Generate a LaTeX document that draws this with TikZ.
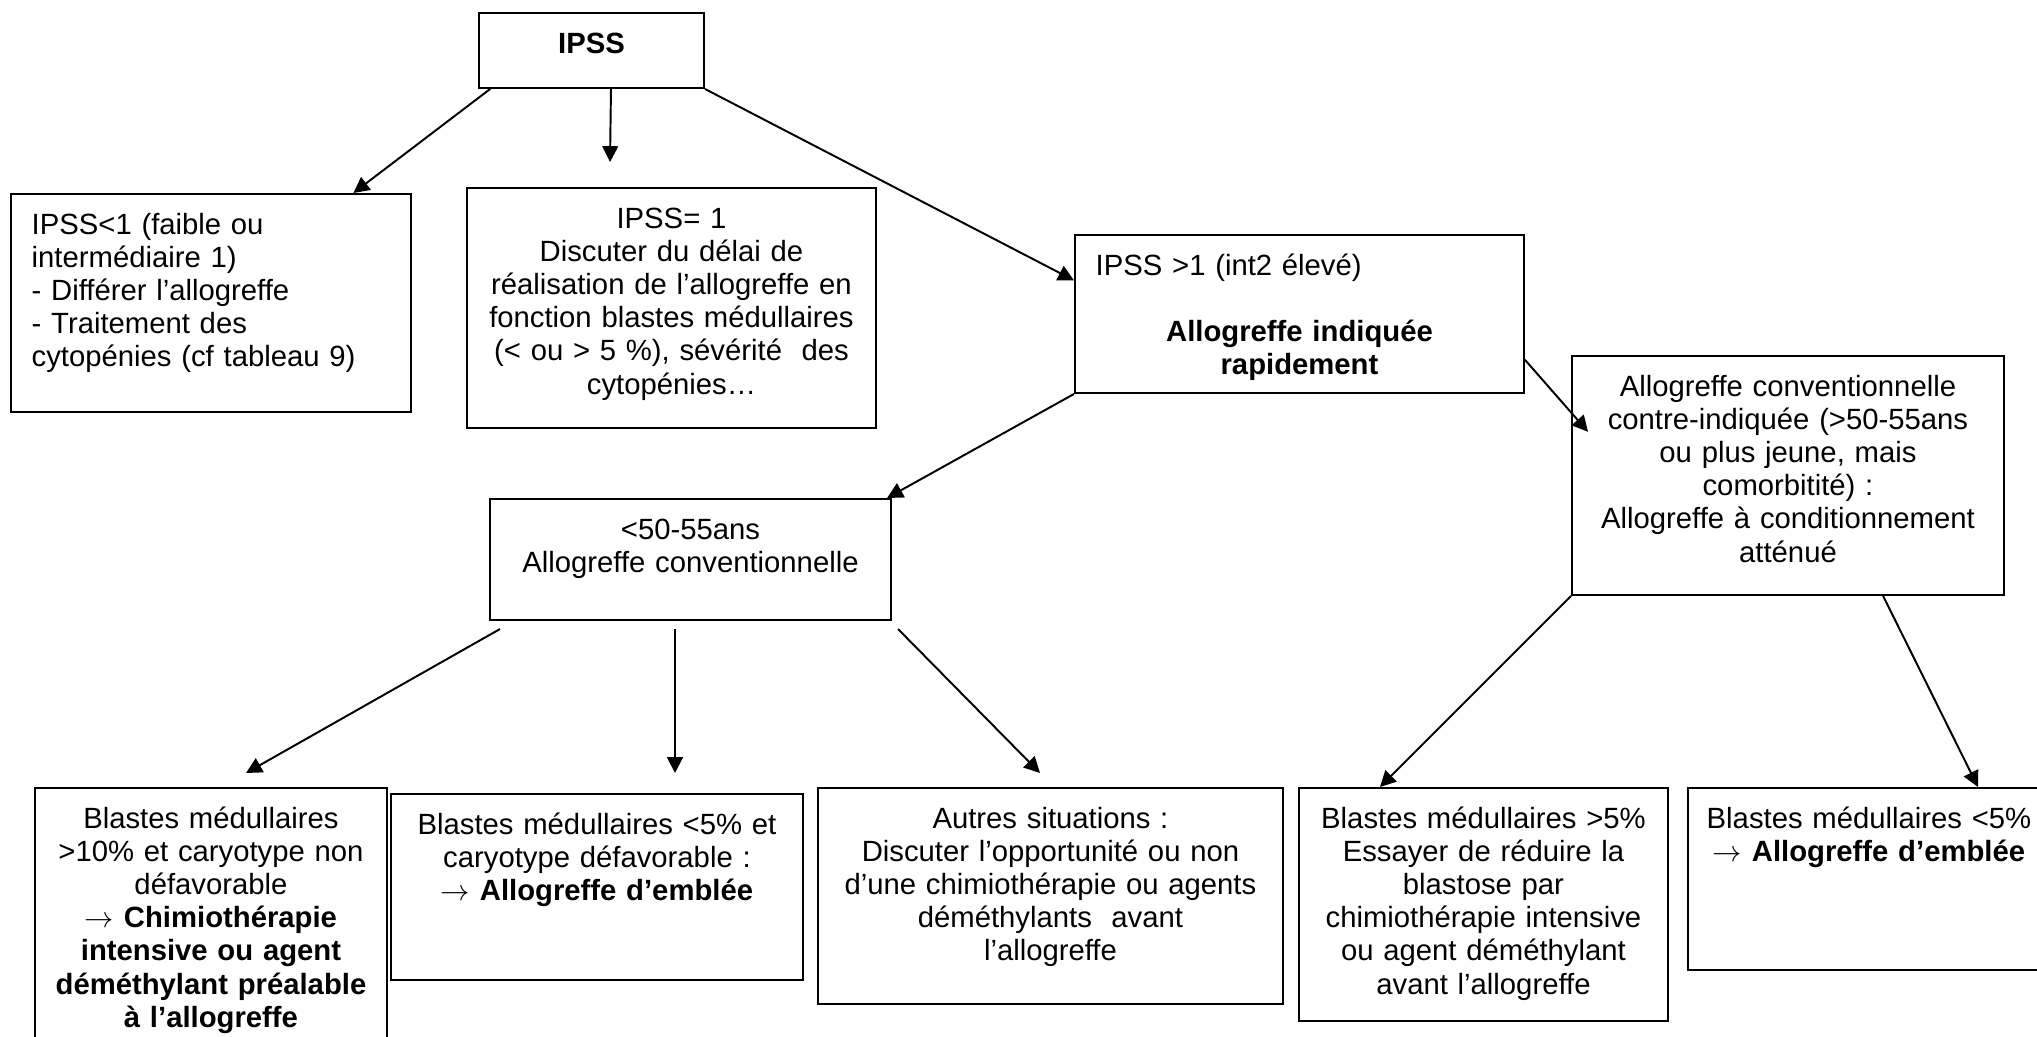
\documentclass[tikz,border=0pt]{standalone}
\usepackage{fontspec}
\setmainfont{Liberation Sans}
\usetikzlibrary{arrows.meta}

\begin{document}
\begin{tikzpicture}[x=0.41pt, y=-0.41pt, >={Triangle[length=6.5pt, width=6.5pt]},
    boite/.style 2 args={draw, line width=0.8pt, anchor=north west, align=center,
        inner xsep=4pt, inner ysep=7.5pt, text height=9pt,
        text width=#1*0.41pt-8pt, text depth=#2*0.41pt-24pt,
        font=\fontsize{12pt}{13.6pt}\selectfont},
    fleche/.style={->, line width=0.8pt}]
        \useasboundingbox (0,0) rectangle (2037,1036);
        \clip (0,0) rectangle (2037,1036);
        % premier niveau
        \node (ipss) [boite={225}{75}] at (478,12) {\textbf{IPSS}};
        \node (ipssbas) [boite={400}{218}, align=left, inner xsep=8.5pt, text width=147pt] at (10,193)
            {IPSS<1 (faible ou\\ intermédiaire 1)\\ - Différer l’allogreffe\\ - Traitement des\\ cytopénies (cf tableau 9)};
        \node (ipssun) [boite={409}{240}] at (466,187)
            {IPSS= 1\\ Discuter du délai de\\ réalisation de l’allogreffe en\\ fonction blastes médullaires\\ (< ou > 5 \%), sévérité~ des\\ cytopénies…};
        \node (ipsshaut) [boite={449}{158}] at (1074,234)
            {\hbox to\linewidth{\hspace{4.5pt}IPSS >1 (int2 élevé)\hfil}\\[13.6pt] \textbf{Allogreffe indiquée}\\ \textbf{rapidement}};
        % second niveau
        \node (allo) [boite={401}{121}] at (489,498) {<50-55ans\\ Allogreffe conventionnelle};
        \node (contre) [boite={432}{239}] at (1571,355)
            {Allogreffe conventionnelle\\ contre-indiquée (>50-55ans\\ ou plus jeune, mais\\ comorbitité) :\\ Allogreffe à conditionnement\\ atténué};
        % dernier niveau
        \node (bas1) [boite={352}{280}] at (34,787)
            {Blastes médullaires\\ >10\% et caryotype non\\ défavorable\\ $\rightarrow$ \textbf{Chimiothérapie}\\ \textbf{intensive ou agent}\\ \textbf{déméthylant préalable}\\ \textbf{à l’allogreffe}};
        \node (bas2) [boite={412}{186}] at (390,793)
            {Blastes médullaires <5\% et\\ caryotype défavorable :\\ $\rightarrow$ \textbf{Allogreffe d’emblée}};
        \node (bas3) [boite={465}{216}] at (817,787)
            {Autres situations :\\ Discuter l’opportunité ou non\\ d’une chimiothérapie ou agents\\ déméthylants~ avant\\ l’allogreffe};
        \node (bas4) [boite={369}{233}] at (1298,787)
            {Blastes médullaires >5\%\\ Essayer de réduire la\\ blastose par\\ chimiothérapie intensive\\ ou agent déméthylant\\ avant l’allogreffe};
        \node (bas5) [boite={362}{182}] at (1687,787)
            {Blastes médullaires <5\%\\ $\rightarrow$ \textbf{Allogreffe d’emblée}};
        % bouts libres des fleches
        \coordinate (p1) at (610,162);
        \coordinate (d1) at (500,629);
        \coordinate (f1) at (246,773);
        \coordinate (d2) at (675,629);
        \coordinate (f2) at (675,773);
        \coordinate (d3) at (898,629);
        \coordinate (f3) at (1040,773);
        \draw[fleche] ([xshift=5pt]ipss.south west) -- ([xshift=-24pt]ipssbas.north east);
        \draw[fleche] ([xshift=8pt]ipss.south) -- (p1);
        \draw[fleche] (ipss.south east) -- ([yshift=-19pt]ipsshaut.north west);
        \draw[fleche] (ipsshaut.south west) -- ([xshift=-2pt]allo.north east);
        \draw[fleche] ([yshift=14pt]ipsshaut.south east) -- ([shift={(7pt,-31.5pt)}]contre.north west);
        \draw[fleche] (d1) -- (f1);
        \draw[fleche] (d2) -- (f2);
        \draw[fleche] (d3) -- (f3);
        \draw[fleche] (contre.south west) -- ([xshift=33.6pt]bas4.north west);
        \draw[fleche] ([xshift=39pt]contre.south) -- ([xshift=44.7pt]bas5.north);
    \end{tikzpicture}
\end{document}
